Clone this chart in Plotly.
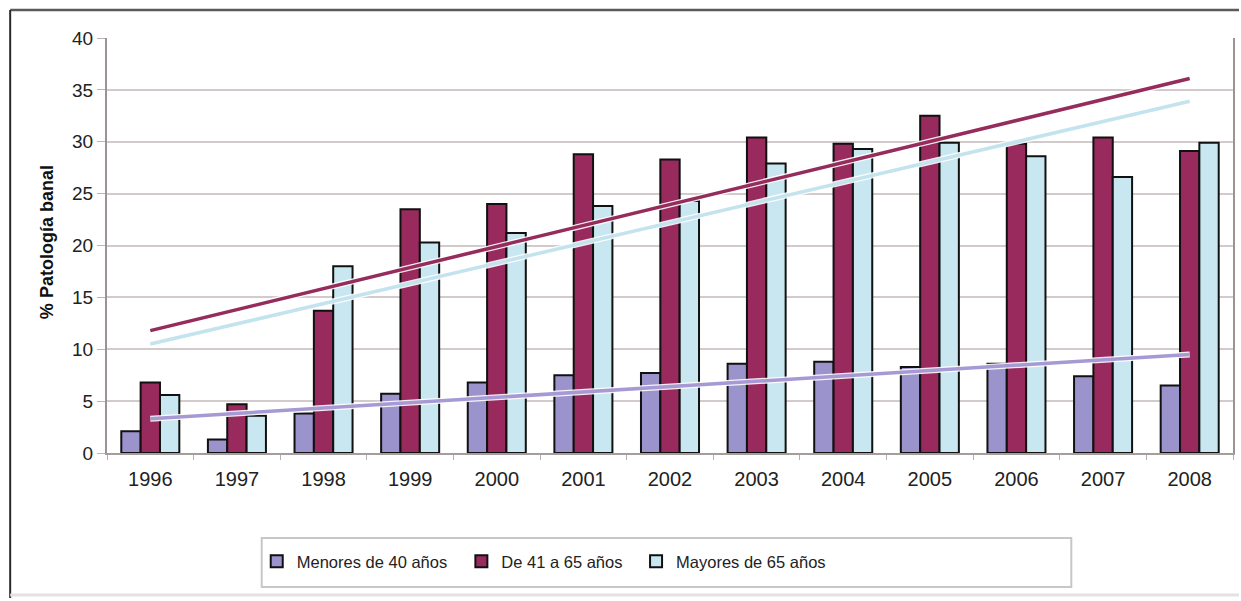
import plotly.graph_objects as go

# Years on the category axis
years = ["1996", "1997", "1998", "1999", "2000", "2001", "2002",
         "2003", "2004", "2005", "2006", "2007", "2008"]

# % patología banal by age group
menores_40 = [2.1, 1.3, 3.8, 5.7, 6.8, 7.5, 7.7, 8.6, 8.8, 8.3, 8.6, 7.4, 6.5]
de_41_a_65 = [6.8, 4.7, 13.7, 23.5, 24.0, 28.8, 28.3, 30.4, 29.8, 32.5, 29.8, 30.4, 29.1]
mayores_65 = [5.6, 3.6, 18.0, 20.3, 21.2, 23.8, 24.3, 27.9, 29.3, 29.9, 28.6, 26.6, 29.9]

# Linear trend lines: value at first and last year
trend_years = ["1996", "2008"]
trend_menores_40 = [3.3, 9.5]
trend_de_41_a_65 = [11.8, 36.1]
trend_mayores_65 = [10.5, 33.9]

series_names = ["Menores de 40 años", "De 41 a 65 años", "Mayores de 65 años"]
y_ticks = [0, 5, 10, 15, 20, 25, 30, 35, 40]

C_PURPLE = "#9b93cb"
C_MAROON = "#992a5d"
C_LIGHT = "#c9e7f1"

TICK_FONT = dict(family="Liberation Sans, Arial, sans-serif", size=19, color="#222222")
X_FONT = dict(family="Liberation Sans, Arial, sans-serif", size=20, color="#222222")
LEGEND_FONT = dict(family="Liberation Sans, Arial, sans-serif", size=16.5, color="#222222")

# Plot-area geometry in pixels, used to place frame pieces in paper units
L, R, T, B = 107, 1235, 38, 453
W_PX, H_PX = R - L, B - T


def px(x):
    return (x - L) / W_PX


def py(y):
    return (B - y) / H_PX


fig = go.Figure()

legend_ids = ["legend", "legend2", "legend3"]
legend_left = [257, 462, 637]

for name, vals, col, lg in zip(series_names,
                               [menores_40, de_41_a_65, mayores_65],
                               [C_PURPLE, C_MAROON, C_LIGHT],
                               legend_ids):
    fig.add_trace(go.Bar(
        x=years, y=vals, name=name, legend=lg,
        marker=dict(color=col, line=dict(color="#111111", width=2)),
    ))

# Trend lines with a pale halo underneath
for vals, col in zip([trend_menores_40, trend_de_41_a_65, trend_mayores_65],
                     ["#a699d4", "#952c5b", "#c3e3ee"]):
    fig.add_trace(go.Scatter(
        x=trend_years, y=vals, mode="lines",
        line=dict(color="rgba(255,255,255,0.9)", width=6),
        showlegend=False, hoverinfo="skip",
    ))
    fig.add_trace(go.Scatter(
        x=trend_years, y=vals, mode="lines",
        line=dict(color=col, width=3.5),
        showlegend=False, hoverinfo="skip",
    ))

shapes = [
    # outer frame: top and left dark edges, light bottom edge
    dict(type="line", xref="paper", yref="paper", x0=px(10), x1=px(1241), y0=py(10), y1=py(10),
         line=dict(color="#5a5a5a", width=2.5)),
    dict(type="line", xref="paper", yref="paper", x0=px(10), x1=px(10), y0=py(10), y1=py(598),
         line=dict(color="#2a2a2a", width=2)),
    dict(type="line", xref="paper", yref="paper", x0=px(10), x1=px(1241), y0=py(595), y1=py(595),
         line=dict(color="#e2e2e2", width=3)),
    # legend box
    dict(type="rect", xref="paper", yref="paper", x0=px(262), x1=px(1073), y0=py(538), y1=py(587),
         line=dict(color="#c9c6c6", width=2), fillcolor="rgba(0,0,0,0)"),
]

legend_style = dict(orientation="h", yanchor="top", xanchor="left",
                    bgcolor="rgba(0,0,0,0)", borderwidth=0, font=LEGEND_FONT)

fig.update_layout(
    width=1241, height=601,
    margin=dict(l=L, r=1241 - R, t=T, b=601 - B),
    paper_bgcolor="white", plot_bgcolor="white",
    barmode="group", bargap=0.33, bargroupgap=0,
    showlegend=True,
    legend=dict(x=px(legend_left[0]), y=py(544), **legend_style),
    legend2=dict(x=px(legend_left[1]), y=py(544), **legend_style),
    legend3=dict(x=px(legend_left[2]), y=py(544), **legend_style),
    shapes=shapes,
    annotations=[dict(text="<b>% Patología banal</b>", textangle=-90,
                      xref="paper", yref="paper", x=px(35), y=py(242),
                      showarrow=False,
                      font=dict(family="Liberation Sans, Arial, sans-serif", size=18, color="#111111"))],
)

fig.update_xaxes(
    type="category", showgrid=False,
    showline=True, linecolor="#a59c9c", linewidth=2,
    ticks="outside", tickson="boundaries", ticklen=5, tickcolor="#b8b0b0",
    tickfont=X_FONT, ticklabelstandoff=7,
)
fig.update_yaxes(
    range=[0, 40], tickvals=y_ticks,
    showgrid=True, gridcolor="#d3cbcb", gridwidth=2,
    showline=True, linecolor="#9d9393", linewidth=2, mirror=True,
    ticks="outside", ticklen=8, tickcolor="#bdb5b5",
    tickfont=TICK_FONT, zeroline=False,
)

fig.write_html("out.html")
